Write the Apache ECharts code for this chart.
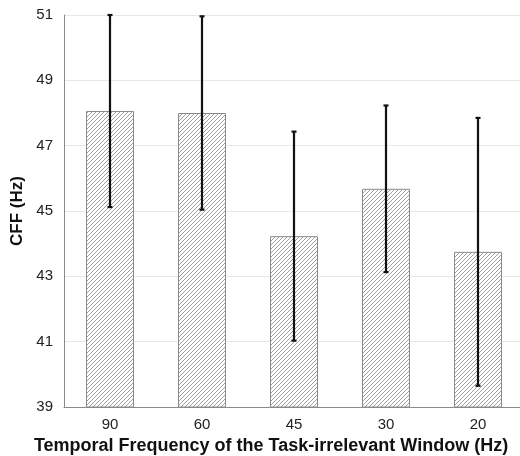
<!DOCTYPE html>
<html>
<head>
<meta charset="utf-8">
<script src="https://cdn.jsdelivr.net/npm/echarts@6/dist/echarts.min.js"></script>
<style>
html,body{margin:0;padding:0;background:#fff;}
#c{width:520px;height:456px;}
</style>
</head>
<body>
<div id="c"></div>
<script>
var categories = ['90', '60', '45', '30', '20'];
var means = [48.06, 48.0, 44.23, 45.68, 43.75];
var errors = [2.94, 2.96, 3.2, 2.55, 4.1];
var yTicks = [39, 41, 43, 45, 47, 49, 51];

function makeHatch() {
  var s = 4;
  var cv = document.createElement('canvas');
  cv.width = s; cv.height = s;
  var ctx = cv.getContext('2d');
  ctx.fillStyle = '#ffffff';
  ctx.fillRect(0, 0, s, s);
  ctx.strokeStyle = '#a0a0a0';
  ctx.lineWidth = 1;
  ctx.beginPath();
  ctx.moveTo(-1, s + 1); ctx.lineTo(s + 1, -1);
  ctx.moveTo(-1, 1); ctx.lineTo(1, -1);
  ctx.moveTo(s - 1, s + 1); ctx.lineTo(s + 1, s - 1);
  ctx.stroke();
  return cv;
}

var chart = echarts.init(document.getElementById('c'), null, {renderer: 'canvas'});
var errData = categories.map(function (c, i) {
  return [i, means[i] - errors[i], means[i] + errors[i]];
});

chart.setOption({
  animation: false,
  textStyle: {fontFamily: 'Liberation Sans, Arial, sans-serif'},
  grid: {left: 64, top: 15, bottom: 49, width: 460, outerBoundsMode: 'none', containLabel: false},
  xAxis: {
    type: 'category',
    data: categories,
    axisLine: {lineStyle: {color: '#8a8a8a', width: 1}},
    axisTick: {show: false},
    axisLabel: {color: '#222', fontSize: 15, margin: 10},
    name: 'Temporal Frequency of the Task-irrelevant Window (Hz)',
    nameLocation: 'middle',
    nameGap: 30,
    nameTextStyle: {color: '#111', fontSize: 18, fontWeight: 'bold', padding: [0, 46, 0, 0]}
  },
  yAxis: {
    type: 'value',
    min: yTicks[0],
    max: yTicks[yTicks.length - 1],
    interval: 2,
    axisLine: {show: true, lineStyle: {color: '#8a8a8a', width: 1}},
    axisTick: {show: false},
    axisLabel: {color: '#222', fontSize: 15, margin: 11},
    splitLine: {lineStyle: {color: '#e8e8e8', width: 1}},
    name: 'CFF (Hz)',
    nameLocation: 'middle',
    nameGap: 33,
    nameTextStyle: {color: '#111', fontSize: 17, fontWeight: 'bold'}
  },
  series: [
    {
      type: 'bar',
      data: means,
      barWidth: 48,
      itemStyle: {
        color: {image: makeHatch(), repeat: 'repeat'},
        borderColor: '#8a8a8a',
        borderWidth: 1
      }
    },
    {
      type: 'custom',
      data: errData,
      z: 10,
      renderItem: function (params, api) {
        var x = api.value(0);
        var lo = api.coord([x, api.value(1)]);
        var hi = api.coord([x, api.value(2)]);
        var hw = 2.5;
        var st = {stroke: '#111', lineWidth: 2.2};
        return {
          type: 'group',
          children: [
            {type: 'line', shape: {x1: lo[0], y1: lo[1], x2: hi[0], y2: hi[1]}, style: st},
            {type: 'line', shape: {x1: lo[0] - hw, y1: lo[1], x2: lo[0] + hw, y2: lo[1]}, style: st},
            {type: 'line', shape: {x1: hi[0] - hw, y1: hi[1], x2: hi[0] + hw, y2: hi[1]}, style: st}
          ]
        };
      }
    }
  ]
});
</script>
</body>
</html>
